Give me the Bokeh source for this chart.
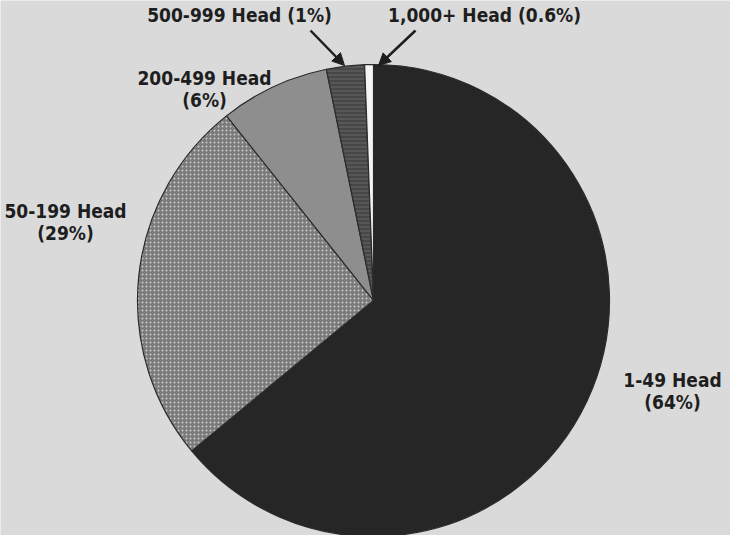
import math
from bokeh.plotting import figure
from bokeh.models import ColumnDataSource, Range1d, Arrow, NormalHead
from bokeh.core.properties import value
from bokeh.embed import file_html
from bokeh.resources import INLINE

# ---- data ----
categories = ["1-49 Head", "50-199 Head", "200-499 Head", "500-999 Head", "1,000+ Head"]
label_pcts = ["64%", "29%", "6%", "1%", "0.6%"]
# slice shares as drawn in the picture (percent)
slice_share = [64.0, 25.3, 7.5, 2.6, 0.6]

# ---- styles ----
fills = ["#262626", "#7a7a7a", "#8e8e8e", "#474747", "#f4f4f4"]
hatches = ["blank", "dot", "blank", "horizontal_line", "blank"]
hatch_colors = ["#262626", "#cccccc", "#8e8e8e", "#5c5c5c", "#f4f4f4"]

W, H = 730, 535
p = figure(width=W, height=H, output_backend="svg", toolbar_location=None,
           x_range=Range1d(8, 738), y_range=Range1d(8, 543),
           min_border=0, tools="")
p.axis.visible = False
p.grid.visible = False
p.outline_line_color = None
p.background_fill_color = "#dadada"
p.border_fill_color = "#dadada"

cx, cy, r = 381, 243, 236

total = sum(slice_share)
starts, ends = [], []
cum = 0.0
for s in slice_share:
    starts.append(math.pi / 2 - 2 * math.pi * cum / total)
    cum += s
    ends.append(math.pi / 2 - 2 * math.pi * cum / total)

src = ColumnDataSource(dict(
    cat=categories, start=starts, end=ends,
    fill=fills, hatch=hatches, hcol=hatch_colors,
))
p.wedge(x=cx, y=cy, radius=r, start_angle="start", end_angle="end",
        direction="clock", source=src, fill_color="fill",
        hatch_pattern="hatch", hatch_color="hcol", hatch_scale=4, hatch_weight=1.5,
        line_color="#2a2a2a", line_width=1.2)

# ---- labels ----
font = value("DejaVu Sans Condensed")
tx = dict(text_font=font, text_font_style="bold", text_font_size="19px",
          text_color="#1e1e1e", text_align="center", text_baseline="middle")

# (category index, x, y of first line, two lines?)
label_layout = [
    (0, 680, 164, True),
    (1, 73, 333, True),
    (2, 212, 466, True),
    (3, 247, 529, False),
    (4, 492, 529, False),
]
xs, ys, texts = [], [], []
for i, x, y, two in label_layout:
    if two:
        xs += [x, x]
        ys += [y, y - 22]
        texts += [categories[i], "(" + label_pcts[i] + ")"]
    else:
        xs.append(x)
        ys.append(y)
        texts.append(categories[i] + " (" + label_pcts[i] + ")")
p.text(x=xs, y=ys, text=texts, **tx)

# ---- arrows ----
for (x0, y0, x1, y1) in [(318, 513, 352, 478), (423, 513, 386, 478)]:
    p.add_layout(Arrow(end=NormalHead(size=12, fill_color="#1e1e1e", line_color="#1e1e1e"),
                       x_start=x0, y_start=y0, x_end=x1, y_end=y1,
                       line_color="#1e1e1e", line_width=2.5))

open("out.html", "w").write(file_html(p, INLINE))
